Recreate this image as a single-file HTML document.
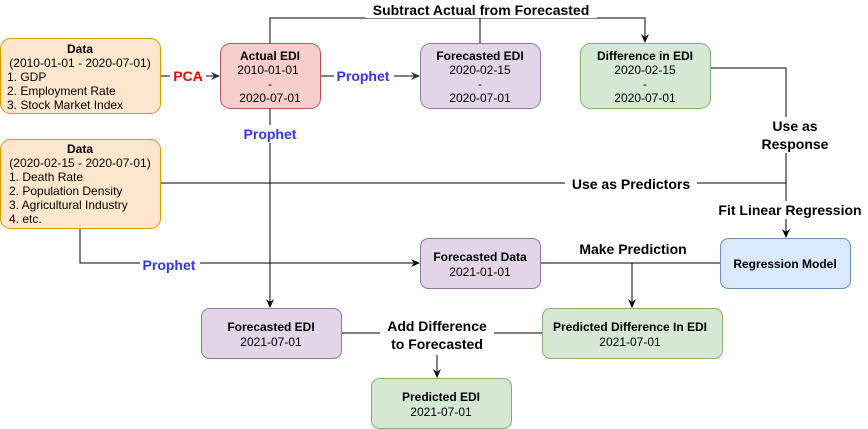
<!DOCTYPE html>
<html><head><meta charset="utf-8"><style>
html,body{margin:0;padding:0;background:#fff;}
svg{display:block;font-family:"Liberation Sans",Arial,sans-serif;}
.b{font-weight:bold;}
</style></head><body>
<svg width="868" height="429" viewBox="0 0 868 429" xmlns="http://www.w3.org/2000/svg">
<defs>
<marker id="a" markerWidth="10" markerHeight="10" refX="8" refY="5" orient="auto" markerUnits="userSpaceOnUse">
<path d="M0,1 L9,5 L0,9 L3,5 Z" fill="#000"/></marker>
<marker id="g" markerWidth="10" markerHeight="10" refX="8" refY="5" orient="auto" markerUnits="userSpaceOnUse">
<path d="M0,1 L9,5 L0,9 L3,5 Z" fill="#333"/></marker>
</defs>
<g fill="none" stroke="#000" stroke-width="1">
<path d="M160,76 H219" stroke="#555" stroke-width="1.5" marker-end="url(#g)"/>
<path d="M320,76 H419" stroke="#555" stroke-width="1.5" marker-end="url(#g)"/>
<path d="M270,43 V18 H645 V42" marker-end="url(#a)"/>
<path d="M480,43 V18"/>
<path d="M710,68 H786 V237" marker-end="url(#a)"/>
<path d="M160,183 H786"/>
<path d="M270,108 V307" marker-end="url(#a)"/>
<path d="M80,228 V263 H419" marker-end="url(#a)"/>
<path d="M540,263 H720"/>
<path d="M632,263 V307" marker-end="url(#a)"/>
<path d="M341,333 H542"/>
<path d="M437,355 V377" marker-end="url(#a)"/>
</g>
<!-- label backgrounds -->
<g fill="#fff">
<rect x="170" y="67" width="36" height="18"/>
<rect x="334" y="67" width="60" height="18"/>
<rect x="365" y="2" width="232" height="16"/>
<rect x="738" y="117" width="96" height="36"/>
<rect x="565" y="175" width="132" height="17"/>
<rect x="712" y="201" width="156" height="18"/>
<rect x="240" y="125" width="60" height="18"/>
<rect x="140" y="256" width="60" height="18"/>
<rect x="574" y="240" width="118" height="18"/>
<rect x="380" y="317" width="114" height="36"/>
</g>
<!-- boxes -->
<rect x="0.5" y="38.5" width="160" height="75" rx="10" fill="#ffe6cc" stroke="#d79b00"/>
<rect x="220.5" y="43.5" width="100" height="65" rx="10" fill="#f8cecc" stroke="#b85450"/>
<rect x="420.5" y="43.5" width="120" height="65" rx="10" fill="#e1d5e7" stroke="#9673a6"/>
<rect x="580.5" y="43.5" width="130" height="65" rx="10" fill="#d5e8d4" stroke="#82b366"/>
<rect x="0.5" y="139.5" width="160" height="89" rx="10" fill="#ffe6cc" stroke="#d79b00"/>
<rect x="420.5" y="238.5" width="120" height="50" rx="8" fill="#e1d5e7" stroke="#9673a6"/>
<rect x="720.5" y="238.5" width="130" height="50" rx="8" fill="#dae8fc" stroke="#6c8ebf"/>
<rect x="201.5" y="308.5" width="140" height="50" rx="8" fill="#e1d5e7" stroke="#9673a6"/>
<rect x="542.5" y="308.5" width="180" height="50" rx="8" fill="#d5e8d4" stroke="#82b366"/>
<rect x="371.5" y="378.5" width="140" height="50" rx="8" fill="#d5e8d4" stroke="#82b366"/>
<g font-size="12" fill="#000">
<text x="80" y="53" text-anchor="middle" class="b">Data</text>
<text x="80" y="67" text-anchor="middle">(2010-01-01 - 2020-07-01)</text>
<text x="7" y="81">1. GDP</text>
<text x="7" y="95">2. Employment Rate</text>
<text x="7" y="109">3. Stock Market Index</text>
<text x="80" y="153" text-anchor="middle" class="b">Data</text>
<text x="80" y="167" text-anchor="middle">(2020-02-15 - 2020-07-01)</text>
<text x="9" y="181">1. Death Rate</text>
<text x="9" y="195">2. Population Density</text>
<text x="9" y="209">3. Agricultural Industry</text>
<text x="9" y="223">4. etc.</text>
<g text-anchor="middle">
<text x="270" y="60" class="b">Actual EDI</text>
<text x="268" y="74">2010-01-01</text>
<text x="270" y="88">-</text>
<text x="270" y="102">2020-07-01</text>
<text x="480" y="60" class="b">Forecasted EDI</text>
<text x="480" y="74">2020-02-15</text>
<text x="480" y="88">-</text>
<text x="480" y="102">2020-07-01</text>
<text x="645" y="60" class="b">Difference in EDI</text>
<text x="645" y="74">2020-02-15</text>
<text x="645" y="88">-</text>
<text x="645" y="102">2020-07-01</text>
<text x="480" y="261" class="b">Forecasted Data</text>
<text x="480" y="276">2021-01-01</text>
<text x="785" y="268" class="b">Regression Model</text>
<text x="271" y="331" class="b">Forecasted EDI</text>
<text x="271" y="346">2021-07-01</text>
<text x="630" y="331" class="b">Predicted Difference In EDI</text>
<text x="630" y="346">2021-07-01</text>
<text x="441" y="401" class="b">Predicted EDI</text>
<text x="441" y="416">2021-07-01</text>
</g>
</g>
<g font-size="14" class="b" text-anchor="middle" font-weight="bold">
<text x="188" y="81" fill="#ff0000">PCA</text>
<text x="363" y="81" fill="#3333ff">Prophet</text>
<text x="270" y="139" fill="#3333ff">Prophet</text>
<text x="169" y="270" fill="#3333ff">Prophet</text>
<text x="481" y="15">Subtract Actual from Forecasted</text>
<text x="795" y="131">Use as</text>
<text x="795" y="149">Response</text>
<text x="631" y="189">Use as Predictors</text>
<text x="790" y="215">Fit Linear Regression</text>
<text x="633" y="254">Make Prediction</text>
<text x="437" y="331">Add Difference</text>
<text x="437" y="349">to Forecasted</text>
</g>
</svg>
</body></html>
